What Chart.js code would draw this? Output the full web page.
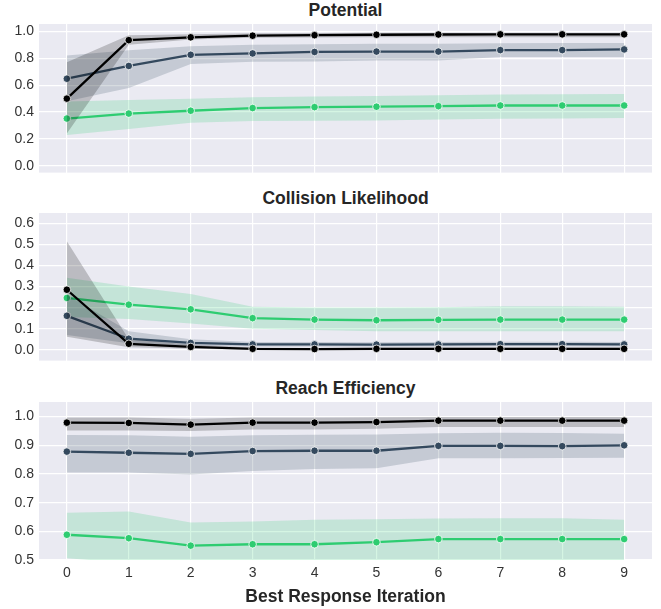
<!DOCTYPE html>
<html>
<head>
<meta charset="utf-8">
<script src="https://cdn.jsdelivr.net/npm/chart.js@4.4.1/dist/chart.umd.min.js"></script>
<style>
body { margin: 0; background: #fff; }
#wrap { position: relative; width: 661px; height: 609px; font-family: "Liberation Sans", Arial, sans-serif; }
.ttl { position: absolute; left: 39px; width: 613px; text-align: center; font-weight: bold; font-size: 17.5px; color: #262626; line-height: 20px; }
canvas { position: absolute; left: 0; }
</style>
</head>
<body>
<div id="wrap">
  <div class="ttl" style="top:0px">Potential</div>
  <div class="ttl" style="top:188px">Collision Likelihood</div>
  <div class="ttl" style="top:378px">Reach Efficiency</div>
  <canvas id="potChart" width="661" height="186" style="top:0px"></canvas>
  <canvas id="colChart" width="661" height="186" style="top:188px"></canvas>
  <canvas id="reaChart" width="661" height="233" style="top:376px"></canvas>
</div>
<script>
// donnees
var iterations = [0, 1, 2, 3, 4, 5, 6, 7, 8, 9];

// Potential
var potBlack   = [0.50, 0.935, 0.956, 0.968, 0.972, 0.975, 0.977, 0.978, 0.978, 0.978];
var potBlackLo = [0.24, 0.90, 0.94, 0.952, 0.955, 0.956, 0.956, 0.956, 0.956, 0.956];
var potBlackHi = [0.77, 0.972, 0.978, 0.986, 0.988, 0.99, 0.99, 0.99, 0.99, 0.99];
var potSlate   = [0.648, 0.743, 0.826, 0.836, 0.847, 0.85, 0.85, 0.861, 0.861, 0.866];
var potSlateLo = [0.48, 0.58, 0.757, 0.775, 0.777, 0.783, 0.783, 0.81, 0.81, 0.81];
var potSlateHi = [0.82, 0.86, 0.889, 0.90, 0.905, 0.908, 0.908, 0.912, 0.913, 0.913];
var potGreen   = [0.352, 0.389, 0.41, 0.43, 0.437, 0.44, 0.444, 0.449, 0.449, 0.449];
var potGreenLo = [0.23, 0.275, 0.32, 0.333, 0.335, 0.338, 0.345, 0.35, 0.352, 0.356];
var potGreenHi = [0.479, 0.49, 0.50, 0.51, 0.515, 0.52, 0.525, 0.53, 0.532, 0.535];
var potTicks   = [0.0, 0.2, 0.4, 0.6, 0.8, 1.0];

// Collision Likelihood
var colBlack   = [0.285, 0.028, 0.013, 0.004, 0.003, 0.004, 0.004, 0.004, 0.004, 0.004];
var colBlackLo = [0.062, 0.012, 0.004, 0.0, 0.0, 0.0, 0.0, 0.0, 0.0, 0.0];
var colBlackHi = [0.516, 0.05, 0.025, 0.01, 0.008, 0.01, 0.01, 0.01, 0.01, 0.01];
var colSlate   = [0.161, 0.052, 0.032, 0.025, 0.025, 0.024, 0.025, 0.026, 0.026, 0.025];
var colSlateLo = [0.07, 0.03, 0.02, 0.015, 0.015, 0.015, 0.015, 0.016, 0.016, 0.015];
var colSlateHi = [0.26, 0.088, 0.05, 0.037, 0.036, 0.035, 0.036, 0.038, 0.038, 0.036];
var colGreen   = [0.246, 0.214, 0.192, 0.15, 0.143, 0.14, 0.142, 0.143, 0.143, 0.143];
var colGreenLo = [0.155, 0.146, 0.125, 0.10, 0.093, 0.088, 0.088, 0.088, 0.088, 0.088];
var colGreenHi = [0.342, 0.30, 0.265, 0.204, 0.2, 0.2, 0.202, 0.206, 0.206, 0.204];
var colTicks   = [0.0, 0.1, 0.2, 0.3, 0.4, 0.5, 0.6];

// Reach Efficiency
var reaBlack   = [0.979, 0.978, 0.972, 0.979, 0.979, 0.981, 0.986, 0.986, 0.986, 0.986];
var reaBlackLo = [0.952, 0.952, 0.95, 0.955, 0.955, 0.958, 0.964, 0.964, 0.964, 0.964];
var reaBlackHi = [0.997, 0.997, 0.993, 0.997, 0.997, 0.998, 0.999, 0.999, 0.999, 0.999];
var reaSlate   = [0.878, 0.874, 0.87, 0.88, 0.881, 0.881, 0.898, 0.898, 0.897, 0.9];
var reaSlateLo = [0.805, 0.805, 0.798, 0.81, 0.817, 0.82, 0.855, 0.855, 0.856, 0.857];
var reaSlateHi = [0.936, 0.935, 0.93, 0.935, 0.937, 0.938, 0.942, 0.944, 0.943, 0.94];
var reaGreen   = [0.588, 0.576, 0.55, 0.555, 0.555, 0.562, 0.573, 0.573, 0.573, 0.573];
var reaGreenLo = [0.506, 0.49, 0.48, 0.48, 0.48, 0.48, 0.48, 0.48, 0.48, 0.48];
var reaGreenHi = [0.665, 0.669, 0.631, 0.634, 0.64, 0.642, 0.645, 0.646, 0.646, 0.64];
var reaTicks   = [0.5, 0.6, 0.7, 0.8, 0.9, 1.0];

var BLACK = '#000000', SLATE = '#34495e', GREEN = '#2ecc71';
var FONT = '"Liberation Sans", Arial, sans-serif';

function pts(vals) {
    return vals.map(function (v, i) { return { x: iterations[i], y: v }; });
}

function rgba(hex, a) {
    var n = parseInt(hex.slice(1), 16);
    return 'rgba(' + (n >> 16) + ',' + ((n >> 8) & 255) + ',' + (n & 255) + ',' + a + ')';
}

// moyenne + bande (hi remplit jusqu'a lo)
function series(color, mean, lo, hi) {
    return [
        { data: pts(mean), borderColor: color, backgroundColor: color, borderWidth: 2.3,
          pointRadius: 3.8, pointBorderColor: '#ffffff', pointBorderWidth: 0.8,
          pointBackgroundColor: color, fill: false },
        { data: pts(hi), borderWidth: 0, pointRadius: 0, borderColor: 'rgba(0,0,0,0)',
          backgroundColor: rgba(color, 0.2), fill: '+1' },
        { data: pts(lo), borderWidth: 0, pointRadius: 0, borderColor: 'rgba(0,0,0,0)', fill: false }
    ];
}

var bgPlugin = {
    id: 'bg',
    beforeDraw: function (chart) {
        var a = chart.chartArea, ctx = chart.ctx;
        ctx.save();
        ctx.fillStyle = '#eaeaf2';
        ctx.fillRect(a.left, a.top, a.right - a.left, a.bottom - a.top);
        ctx.restore();
    }
};

function makeChart(id, sets, yMin, yMax, yTicks, padTop, padBottom, showX) {
    var ctx = document.getElementById(id).getContext('2d');
    var datasets = []
        .concat(series(BLACK, sets[0], sets[1], sets[2]))
        .concat(series(SLATE, sets[3], sets[4], sets[5]))
        .concat(series(GREEN, sets[6], sets[7], sets[8]));
    return new Chart(ctx, {
        type: 'line',
        data: { datasets: datasets },
        plugins: [bgPlugin],
        options: {
            responsive: false,
            animation: false,
            layout: { padding: { top: padTop, bottom: padBottom, left: 0, right: 9 } },
            plugins: { legend: { display: false }, tooltip: { enabled: false } },
            scales: {
                x: {
                    type: 'linear', min: -0.45, max: 9.45,
                    afterBuildTicks: function (s) { s.ticks = iterations.map(function (v) { return { value: v }; }); },
                    afterFit: function (s) { s.height = showX ? 49 : 0; },
                    grid: { color: '#ffffff', lineWidth: 1.2, drawTicks: false },
                    border: { display: false },
                    ticks: { display: showX, padding: 5, color: '#333333', font: { family: FONT, size: 14 } },
                    title: { display: showX, text: 'Best Response Iteration', color: '#262626',
                             padding: { top: 0, bottom: 1 }, font: { family: FONT, size: 17.5, weight: 'bold' } }
                },
                y: {
                    min: yMin, max: yMax,
                    afterBuildTicks: function (s) { s.ticks = yTicks.map(function (v) { return { value: v }; }); },
                    afterFit: function (s) { s.width = 39; },
                    grid: { color: '#ffffff', lineWidth: 1.2, drawTicks: false },
                    border: { display: false },
                    ticks: { padding: 5, color: '#333333', font: { family: FONT, size: 14 },
                             callback: function (v) { return v.toFixed(1); } }
                }
            }
        }
    });
}

makeChart('potChart', [potBlack, potBlackLo, potBlackHi, potSlate, potSlateLo, potSlateHi, potGreen, potGreenLo, potGreenHi],
    -0.05, 1.055, potTicks, 24, 3, false);
makeChart('colChart', [colBlack, colBlackLo, colBlackHi, colSlate, colSlateLo, colSlateHi, colGreen, colGreenLo, colGreenHi],
    -0.052, 0.65, colTicks, 25, 2, false);
makeChart('reaChart', [reaBlack, reaBlackLo, reaBlackHi, reaSlate, reaSlateLo, reaSlateHi, reaGreen, reaGreenLo, reaGreenHi],
    0.5, 1.051, reaTicks, 26, 0, true);
</script>
</body>
</html>
